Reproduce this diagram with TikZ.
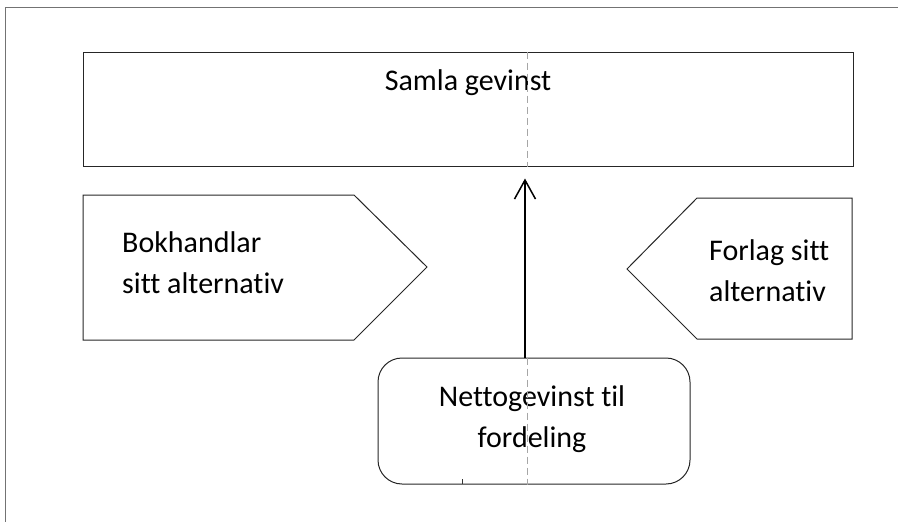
\documentclass[tikz,border=0pt]{standalone}
\usepackage{fontspec}
\setmainfont[Ligatures={NoCommon}]{Carlito}
\usetikzlibrary{arrows.meta}

\begin{document}
\begin{tikzpicture}[x=1pt, y=-1pt,
    txt/.style={font=\fontsize{30}{41}\selectfont, inner sep=0pt},
    box/.style={draw=black!85, line width=1pt},
    midline/.style={draw=black!35, line width=0.9pt, dash pattern=on 7pt off 4pt}]
    \useasboundingbox (0, 0) rectangle (898, 522);
    \draw[black!55, line width=1pt] (898, 7) -- (5, 7) -- (5, 522);
    \coordinate(mid) at (527, 0);
    \coordinate(pil) at (525, 0);
    % boksane
    \node[box, minimum width=770pt, minimum height=114pt, inner sep=0pt](samla) at (468, 109) {};
    \node[txt](samlatxt) at (468, 83) {Samla gevinst};
    \draw[box] (83, 195) -- (354, 195) -- (427, 267) -- (354, 340) -- (83, 340) -- cycle;
    \draw[box] (852, 198) -- (697, 198) -- (627, 269) -- (697, 339) -- (852, 339) -- cycle;
    \node[txt, anchor=west, align=left](bok) at (122, 263) {Bokhandlar\\sitt alternativ};
    \node[txt, anchor=west, align=left](forlag) at (709, 271) {Forlag sitt\\alternativ};
    \node[box, rounded corners=24pt, minimum width=312pt, minimum height=126pt](net) at (534, 421) {};
    \node[txt, align=center](nettxt) at (532, 419) {Nettogevinst til\\fordeling};
    \draw[black!80, line width=0.8pt] (462, 479) -- (462, 484);
    % midtlinja
    \draw[midline] (samla.north -| mid) -- (samla.south -| mid);
    \draw[midline] (net.north -| mid) -- (net.south -| mid);
    % pila
    \draw[-{Straight Barb[length=19pt, width=21pt]}, line width=1.5pt, shorten >=12pt] (net.north -| pil) -- (samla.south -| pil);
\end{tikzpicture}
\end{document}
